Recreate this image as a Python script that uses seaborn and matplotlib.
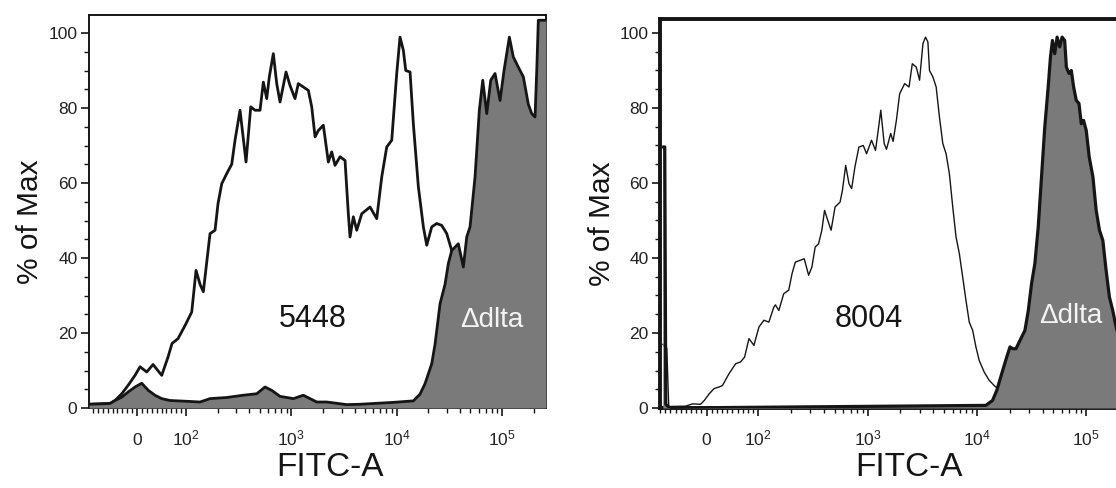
import matplotlib
matplotlib.use('Agg')
import matplotlib.pyplot as plt
import seaborn as sns

########################################## DATOS ##############################################

# Panel izquierdo: cepa 5448 (solo linea) y mutante delta dlta (relleno gris)
x_5448 = [-98, -75.5, -55.1, -44.9, -31.2, -18.4, -4.1, 6.1, 19.8, 32.7, 50.4, 63.3, 71.4, 83.7, 98,
          113.3, 124.5, 135.8, 146, 169, 188.6, 201.3, 218.3, 243.5, 271.6, 292, 325.7, 371.4, 411.6, 452.2,
          504.5, 542.2, 584, 618, 674.7, 726.6, 781, 890.8, 971.9, 1084, 1165, 1300, 1450, 1562, 1680, 1805,
          2013, 2246, 2419, 2600, 2901, 3236, 3478, 3610, 3880, 4180, 4663, 5590, 6471, 7220, 8054, 8985,
          10020, 10770, 11580, 12200, 13410, 14410, 16080, 17940, 19320, 21540, 24040, 26810, 29910, 33370, 35860]
y_5448 = [1.0, 1.1, 1.2, 2, 3.8, 6, 8.7, 11, 9.6, 11.6, 8.7, 13.6, 17.2, 18.5, 22,
          25.6, 36.7, 33, 31, 46.5, 47.4, 54.5, 59.8, 62.5, 65, 71.4, 79.4, 65.6, 80.3, 79.4,
          79.4, 86.9, 82.5, 88.3, 94.5, 86.5, 81.6, 89.6, 86, 82.5, 86.5, 85.6, 84.7, 80.3, 72.3, 74,
          75.4, 65.6, 68.3, 64.7, 67, 66, 51.8, 45.6, 51, 47.4, 51.8, 53.6, 50.5, 61.6, 69.6, 71.4,
          89.2, 98.9, 95.4, 90, 89.6, 75.8, 59, 48.3, 43.4, 48.3, 49.2, 48.7, 46.5, 42, 40]

x_dlta_izq = [-98, -75.5, -55.1, -44.9, -31.2, -17.8, -4.1, 9.6, 23.1, 36.7, 50.4, 67.3, 100, 135.8, 169,
              243.5, 347.8, 469.3, 562.6, 651.5, 781, 1045, 1300, 1505, 1743, 2169, 3358, 4491, 9306, 14410,
              16680, 18610, 21540, 23160, 25840, 28830, 30970, 33370, 38530, 42990, 46320, 49780, 55530, 61010,
              65720, 71730, 78290, 86000, 95940, 104700, 117600, 128300, 143100, 159700, 178100, 191900,
              206200, 214100, 221600, 262100]
y_dlta_izq = [1.0, 1.1, 1.2, 2, 2.9, 4.3, 5.6, 6.6, 4.7, 3.4, 2.5, 2.0, 1.8, 1.6, 2.5,
              2.8, 3.4, 3.8, 5.6, 4.7, 3.1, 2.5, 3.4, 2.5, 1.6, 1.6, 0.9, 1.0, 1.5, 1.9,
              3.7, 6.5, 11.8, 17, 27.8, 33, 38.5, 42, 43.8, 37.6, 45.6, 48.3, 61.6, 79.4,
              87.4, 78.5, 87.4, 89.2, 82, 90, 98.9, 93.6, 90.9, 88.3, 81, 78.5,
              77.6, 90, 103.4, 103.4]

# Panel derecho: cepa 8004 (linea fina) y mutante delta dlta (relleno gris)
x_8004 = [-84.6, -76.9, -73.1, -40.4, -26.9, -11.5, -4.4, 5.2, 14.8, 24.4, 30.8, 43.7, 56.3, 66, 73.7, 82.1, 91.7,
          101.5, 112.7, 125.1, 138.9, 143.6, 154.3, 171.2, 190.1, 203.7, 218.4, 242.4, 263.6, 289, 309.7, 331.8,
          356.3, 381.8, 404.1, 433, 463.9, 504.3, 560.1, 588.8, 631, 676.1, 715.3, 766.4, 833.4, 913.9, 979.3,
          1087, 1182, 1251, 1321, 1419, 1489, 1628, 1712, 1835, 1966, 2183, 2394, 2565, 2790, 2989, 3210, 3388,
          3563, 3685, 3956, 4240, 4543, 4877, 5226, 5600, 6013, 6444, 6905, 7413, 7943, 8511, 9140, 9793,
          10490, 11650, 12940, 14370, 15430, 17600]
y_8004 = [17, 16, 0.4, 0.5, 1.1, 1.0, 2, 3.8, 5.2, 5.6, 6, 9.2, 11.8, 12.3, 13.6, 18.5, 16.7,
          21.6, 23.4, 22.9, 26.9, 27.5, 26, 30.5, 31.4, 35.8, 38.9, 39.4, 39.8, 35.4, 37.6, 42.9,
          43.8, 47.4, 52.7, 50, 47.4, 53.6, 54.9, 58, 64.7, 59.8, 58.5, 64.3, 69.6, 70, 67.8,
          71.4, 68.7, 74, 79.4, 70.5, 69, 73.2, 71.1, 76.7, 83.8, 86.5, 85.6, 91.8, 90.9, 87.4, 97.2, 98.9,
          97.6, 90, 88.3, 85.6, 77.6, 70.5, 67.8, 62.5, 53.6, 45.6, 41.2, 34.9, 28.7, 22.9, 20.7, 16.3,
          12.7, 9.6, 7.4, 6, 5.2, 3]

x_dlta_der = [-84.6, -80.8, -78.8, -71.2, 12070, 13890, 15200, 16880, 18740, 20080, 21250, 22770, 24750,
              27490, 29510, 31620, 33880, 36380, 38980, 41770, 44860, 47070, 49090, 51500, 54150, 57200,
              60140, 63490, 65800, 69600, 73030, 76640, 81110, 85820, 90050, 94510, 100000, 106500,
              115100, 123300, 132100, 141800, 152000, 162800, 174800, 184700, 203800]
y_dlta_der = [69.6, 69.6, 1, 0, 0.7, 2, 4.7, 9.2, 13.6, 16.3, 15.8, 15.8, 18,
              20.7, 26, 33.2, 38.5, 48.3, 61.6, 75, 85.6, 93.6, 98, 94.5, 98.9, 96.3,
              98.9, 98, 90.9, 89.2, 90, 85.6, 82, 81.2, 75.8, 76.7, 74, 66.9,
              61.6, 52.7, 47.4, 44.7, 36.7, 29.6, 26, 22.5, 17]

ticks_x = [0, 1e2, 1e3, 1e4, 1e5]
etiquetas_x = ['0', r'$\mathregular{10^2}$', r'$\mathregular{10^3}$', r'$\mathregular{10^4}$', r'$\mathregular{10^5}$']
ticks_y = [0, 20, 40, 60, 80, 100]

GRIS = '#7a7a7a'
NEGRO = '#151515'

######################################## GRAFICA #########################################

sns.set_style('ticks')
plt.rcParams['font.family'] = ['Liberation Sans', 'DejaVu Sans']
plt.rcParams['mathtext.fontset'] = 'custom'
plt.rcParams['mathtext.rm'] = 'Liberation Sans'

fig = plt.figure(figsize=(11.16, 4.88), dpi=100)
ax1 = fig.add_axes([0.07975, 0.16393, 0.40950, 0.80533])
ax2 = fig.add_axes([0.59140, 0.16393, 0.42294, 0.79713])

# minor ticks del eje biexponencial
menores_x = [v for v in range(-90, 100, 10) if v != 0]
for dec in [100, 1000, 10000, 100000]:
    menores_x += [k * dec for k in range(2, 10) if k * dec < 262143]
menores_y = [v for v in range(5, 105, 5) if v % 20 != 0]


def configurar_eje(ax, xmin, linscale, ymax, grosor):
    ax.set_xscale('symlog', base=10, linthresh=100, linscale=linscale)
    ax.set_xlim(xmin, 262100)
    ax.set_ylim(0, ymax)
    ax.set_xticks(ticks_x)
    ax.set_xticklabels(etiquetas_x)
    ax.set_xticks(menores_x, minor=True)
    ax.set_yticks(ticks_y)
    ax.set_yticks(menores_y, minor=True)
    for s in ax.spines.values():
        s.set_linewidth(grosor)
        s.set_color(NEGRO)
    ax.tick_params(axis='both', which='major', direction='out', length=5.8, width=1.2,
                   colors=NEGRO, labelsize=12.5, labelcolor='#222222')
    ax.tick_params(axis='both', which='minor', direction='out', length=3.6, width=1.0, colors=NEGRO)
    ax.tick_params(axis='x', which='major', pad=21)
    ax.tick_params(axis='y', which='major', pad=2.5)
    for lab in ax.get_xticklabels():
        lab.set_verticalalignment('baseline')
    ax.set_xlabel('FITC-A', fontsize=24, color='#151515')
    ax.set_ylabel('% of Max', fontsize=21.5, color='#151515')


# Panel izquierdo
configurar_eje(ax1, -98, 0.4188, 104.8, 1.4)
sns.lineplot(x=x_5448, y=y_5448, ax=ax1, color=NEGRO, lw=2.0, zorder=2)
ax1.fill_between(x_dlta_izq, y_dlta_izq, 0, color=GRIS, lw=0, zorder=3)
sns.lineplot(x=x_dlta_izq, y=y_dlta_izq, ax=ax1, color=NEGRO, lw=2.0, zorder=4)
ax1.text(0.489, 0.206, '5448', transform=ax1.transAxes, ha='center', va='baseline',
         fontsize=22, color='#151515')
ax1.text(0.881, 0.207, '\u0394dlta', transform=ax1.transAxes, ha='center', va='baseline',
         fontsize=20, color='#f4f4f4', zorder=5)
ax1.xaxis.set_label_coords(0.527, -0.113)
ax1.yaxis.set_label_coords(-0.0985, 0.473)

# Panel derecho
configurar_eje(ax2, -84.6, 0.4255, 103.73, 2.8)
sns.lineplot(x=x_8004, y=y_8004, ax=ax2, color=NEGRO, lw=1.0, zorder=2)
ax2.fill_between(x_dlta_der, y_dlta_der, 0, color=GRIS, lw=0, zorder=3)
sns.lineplot(x=x_dlta_der, y=y_dlta_der, ax=ax2, color=NEGRO, lw=2.3, zorder=4)
ax2.text(0.4428, 0.209, '8004', transform=ax2.transAxes, ha='center', va='baseline',
         fontsize=22, color='#151515')
ax2.text(0.8708, 0.218, '\u0394dlta', transform=ax2.transAxes, ha='center', va='baseline',
         fontsize=20, color='#f4f4f4', zorder=5)
ax2.xaxis.set_label_coords(0.5275, -0.114)
ax2.yaxis.set_label_coords(-0.093, 0.473)

fig.savefig('out.png', dpi=100)
